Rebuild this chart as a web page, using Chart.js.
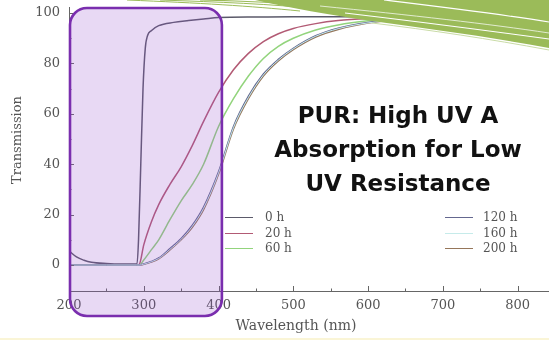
<!DOCTYPE html>
<html>
<head>
<meta charset="utf-8">
<script src="https://cdn.jsdelivr.net/npm/chart.js@4.4.1/dist/chart.umd.min.js"></script>
<style>
  html, body { margin: 0; padding: 0; background: #fff; }
  #wrap { position: relative; width: 549px; height: 343px; overflow: hidden; }
  #chart { position: absolute; left: 0; top: 0; }
  #swoosh { position: absolute; left: 0; top: 0; pointer-events: none; }
  #callout {
    position: absolute; left: 248px; top: 98px; width: 300px;
    text-align: center; font-family: "DejaVu Sans", sans-serif;
    font-weight: 700; font-size: 23px; line-height: 34px; color: #111;
  }
  .leg { position: absolute; font-family: "DejaVu Serif", serif; font-size: 12px; color: #555; }
  .leg span.ln { position: absolute; width: 28px; height: 0; border-top: 1.5px solid; }
  #foot { position: absolute; left: 0; top: 338px; width: 549px; height: 2px; background: #faf5d6; }
</style>
</head>
<body>
<div id="wrap">
  <canvas id="chart" width="549" height="343"></canvas>
  <svg id="swoosh" width="549" height="60" viewBox="0 0 549 60">
    <path d="M127 0 C 200 3, 250 6, 300 11" stroke="#9bbb59" stroke-width="1" fill="none"/>
    <path d="M160 0 C 220 2, 270 4, 320 9" stroke="#9bbb59" stroke-width="1" fill="none"/>
    <path d="M200 0 C 250 1, 290 3, 340 7" stroke="#9bbb59" stroke-width="1.2" fill="none"/>
    <path d="M255 0 L 549 0 L 549 48 C 490 37, 430 29, 372 21 C 330 15, 290 8, 255 0 Z" fill="#9bbb59"/>
    <path d="M384 0 C 450 8, 500 14, 549 22" stroke="#fff" stroke-width="1.1" fill="none"/>
    <path d="M320 6 C 410 15, 490 24, 549 33" stroke="#e9f0dc" stroke-width="0.9" fill="none"/>
    <path d="M345 13 C 430 23, 490 31, 549 39" stroke="#fff" stroke-width="1.1" fill="none"/>
    <path d="M372 23 C 430 30, 490 39, 549 50" stroke="#c9dba6" stroke-width="1" fill="none"/>
  </svg>
  <div id="callout">PUR: High UV A<br>Absorption for Low<br>UV Resistance</div>
  <div id="legend"></div>
  <div id="foot"></div>
</div>
<script>
// --- Donnees ---
const seriesNames = ['0 h', '20 h', '60 h', '120 h', '160 h', '200 h'];
const seriesColors = ['#5b5a6a', '#b25a74', '#92d47c', '#64678f', '#c6ebea', '#96765a'];

const xTicks = [200, 300, 400, 500, 600, 700, 800];
const yTicks = [0, 20, 40, 60, 80, 100];

// 0 h : longueurs d'onde propres (front tres raide vers 295 nm)
const wl0 = [200, 210, 220, 230, 250, 270, 291, 293, 296, 299, 302, 305, 310, 320, 340, 360, 380, 400, 450, 500, 600, 700, 842];
const t0  = [5.6, 3.2, 1.9, 1.1, 0.6, 0.4, 0.5, 10, 40, 70, 86, 91, 93, 95, 96.3, 97, 97.6, 98.2, 98.4, 98.5, 98.5, 98.5, 98.5];

// echantillons vieillis
const wlAged = [200, 250, 290, 294, 300, 310, 320, 335, 350, 365, 380, 400, 420, 440, 460, 480, 500, 530, 560, 600, 640, 700, 800, 842];
const t20  = [0, 0, 0, 0.3, 8, 17, 24, 32, 39, 47.5, 57, 68.5, 77.5, 84, 88.7, 91.8, 93.9, 95.8, 97, 97.8, 98.2, 98.4, 98.5, 98.5];
const t60  = [0, 0, 0, 0, 2, 6, 10, 18, 25.5, 32, 40, 55, 66, 75, 82, 86.8, 90, 93.3, 95.3, 96.9, 97.8, 98.3, 98.5, 98.5];
const t120 = [0, 0, 0, 0, 0.4, 1.4, 2.8, 6.5, 10.5, 15.8, 23, 37, 55, 67, 75.8, 81.6, 86, 91, 94, 96.3, 97.5, 98.2, 98.5, 98.5];
const t160 = [0, 0, 0, 0, 0.35, 1.3, 2.6, 6.2, 10.2, 15.4, 22.5, 36.5, 54.5, 66.5, 75.4, 81.3, 85.8, 90.8, 93.8, 96.1, 97.4, 98.2, 98.5, 98.5];
const t200 = [0, 0, 0, 0, 0.3, 1.2, 2.5, 6, 10, 15, 22, 36, 54, 66, 75, 81, 85.5, 90.5, 93.5, 96, 97.3, 98.2, 98.5, 98.5];

const seriesX = [wl0, wlAged, wlAged, wlAged, wlAged, wlAged];
const seriesY = [t0, t20, t60, t120, t160, t200];

// --- Legende HTML (deux colonnes) ---
function buildLegend() {
  const box = document.getElementById('legend');
  seriesNames.forEach((name, i) => {
    const col = i < 3 ? 0 : 1;
    const row = i % 3;
    const item = document.createElement('div');
    item.className = 'leg';
    item.style.left = (col ? 445 : 225) + 'px';
    item.style.top = (209 + row * 15.5) + 'px';
    item.style.height = '16px';
    item.innerHTML = '<span class="ln" style="top:8px;left:0;border-color:' + seriesColors[i] + '"></span>' +
      '<span style="position:absolute;left:' + (col ? 38 : 40) + 'px;top:0;white-space:nowrap;line-height:16px">' + name + '</span>';
    box.appendChild(item);
  });
}

// --- Graduations interieures, titres d'axes et cadre violet ---
const decorPlugin = {
  id: 'decor',
  afterDraw(chart) {
    const ctx = chart.ctx;
    const xs = chart.scales.x, ys = chart.scales.y;
    const area = chart.chartArea;
    ctx.save();
    ctx.strokeStyle = '#666';
    ctx.lineWidth = 1;
    for (let v = 200; v <= 800; v += 50) {
      const px = Math.round(xs.getPixelForValue(v)) + 0.5;
      const len = v % 100 === 0 ? 5 : 2.5;
      ctx.beginPath(); ctx.moveTo(px, area.bottom); ctx.lineTo(px, area.bottom - len); ctx.stroke();
    }
    for (let v = 0; v <= 100; v += 10) {
      const py = Math.round(ys.getPixelForValue(v)) + 0.5;
      const len = v % 20 === 0 ? 5 : 2.5;
      ctx.beginPath(); ctx.moveTo(area.left, py); ctx.lineTo(area.left + len, py); ctx.stroke();
    }
    // titres des axes
    ctx.fillStyle = '#555';
    ctx.font = '14px "DejaVu Serif", serif';
    ctx.textAlign = 'center';
    ctx.textBaseline = 'middle';
    ctx.fillText('Wavelength (nm)', 296, 326);
    ctx.save();
    ctx.translate(18, 140);
    ctx.rotate(-Math.PI / 2);
    ctx.font = '13px "DejaVu Serif", serif';
    ctx.fillText('Transmission', 0, 0);
    ctx.restore();
    // cadre violet (zone UV)
    const l = xs.getPixelForValue(200) + 1, r = xs.getPixelForValue(404.5);
    const t = area.top + 1, b = area.bottom + 25;
    ctx.beginPath();
    ctx.roundRect(l, t, r - l, b - t, 17);
    ctx.fillStyle = 'rgba(150, 80, 205, 0.22)';
    ctx.fill();
    ctx.lineWidth = 2.6;
    ctx.strokeStyle = '#7a2eae';
    ctx.stroke();
    ctx.restore();
  }
};

const datasets = seriesNames.map((name, i) => ({
  label: name,
  data: seriesX[i].map((x, j) => ({ x: x, y: seriesY[i][j] })),
  borderColor: seriesColors[i],
  borderWidth: i === 4 ? 1 : 1.5,
  pointRadius: 0,
  cubicInterpolationMode: 'monotone',
  fill: false
}));
// ordre de dessin : les courbes claires d'abord
datasets.forEach((d, i) => { d.order = [0, 1, 2, 3, 4, 2][i] * -1; });

buildLegend();

new Chart(document.getElementById('chart'), {
  type: 'line',
  data: { datasets },
  plugins: [decorPlugin],
  options: {
    responsive: false,
    animation: false,
    devicePixelRatio: 1,
    layout: { padding: { top: 7, right: 0, left: 0, bottom: 0 } },
    plugins: { legend: { display: false }, tooltip: { enabled: false } },
    scales: {
      x: {
        type: 'linear',
        min: 200, max: 842,
        afterBuildTicks: s => { s.ticks = xTicks.map(v => ({ value: v })); },
        afterFit: s => { s.height = 52; s.paddingLeft = 0; s.paddingRight = 0; },
        grid: { display: false, drawTicks: false },
        border: { display: true, color: '#666', width: 1 },
        ticks: { font: { family: 'DejaVu Serif', size: 13 }, color: '#555', padding: 7, maxRotation: 0 }
      },
      y: {
        min: -10.3, max: 102.4,
        afterBuildTicks: s => { s.ticks = yTicks.map(v => ({ value: v })); },
        afterFit: s => { s.width = 69; s.paddingTop = 0; s.paddingBottom = 0; },
        grid: { display: false, drawTicks: false },
        border: { display: true, color: '#666', width: 1 },
        ticks: { font: { family: 'DejaVu Serif', size: 13 }, color: '#555', padding: 9 }
      }
    }
  }
});
</script>
</body>
</html>
